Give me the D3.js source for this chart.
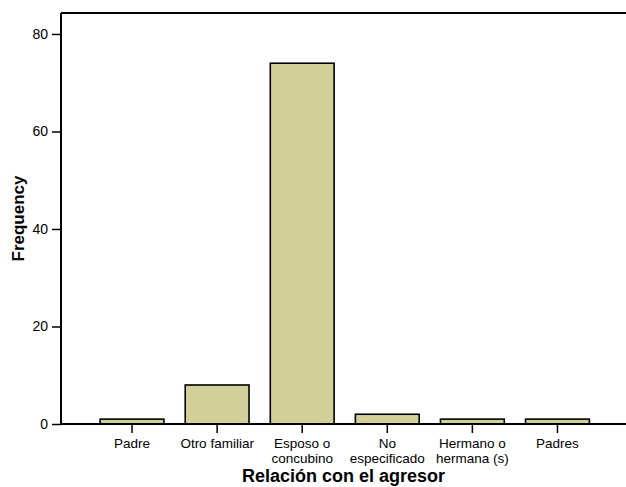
<!DOCTYPE html>
<html lang="es">
<head>
<meta charset="UTF-8">
<title>Relación con el agresor</title>
<script src="https://d3js.org/d3.v7.min.js"></script>
<style>
  body { margin: 0; background: #fff; }
  text { font-family: "Liberation Sans", Arial, sans-serif; }
</style>
</head>
<body>
<div id="chart"></div>
<script>
// data
var categories = [
  ["Padre"],
  ["Otro familiar"],
  ["Esposo o", "concubino"],
  ["No", "especificado"],
  ["Hermano o", "hermana (s)"],
  ["Padres"]
];
var frequencies = [1, 8, 74, 2, 1, 1];
var yTicks = [0, 20, 40, 60, 80];

var W = 626, H = 487;
// plot box (avoid the name "top", window.top is read-only)
var plotL = 61, plotT = 13, plotR = 626, plotB = 424;

var svg = d3.select("#chart").append("svg")
  .attr("width", W).attr("height", H);

var keys = categories.map(function(c) { return c.join(" "); });

var x = d3.scaleBand()
  .domain(keys)
  .range([89.5, 600])
  .paddingInner(0.25)
  .paddingOuter(0.125);

var y = d3.scaleLinear()
  .domain([0, 84.3])
  .range([plotB, plotT]);

// bars
svg.selectAll("rect.bar")
  .data(frequencies)
  .enter().append("rect")
  .attr("class", "bar")
  .attr("x", function(d, i) { return x(keys[i]); })
  .attr("width", x.bandwidth())
  .attr("y", function(d) { return y(d); })
  .attr("height", function(d) { return y(0) - y(d); })
  .attr("fill", "#d3cf99")
  .attr("stroke", "#000")
  .attr("stroke-width", 1.6);

// y axis
var yAxis = svg.append("g")
  .attr("transform", "translate(" + plotL + ",0)")
  .call(d3.axisLeft(y).tickValues(yTicks).tickSize(9).tickPadding(4));
yAxis.select(".domain").remove();
yAxis.selectAll("line").attr("stroke", "#000").attr("stroke-width", 1.5);
yAxis.selectAll("text").style("font-size", "14px").attr("fill", "#000");

// x axis
var xAxis = svg.append("g")
  .attr("transform", "translate(0," + plotB + ")")
  .call(d3.axisBottom(x).tickSize(9).tickFormat(""));
xAxis.select(".domain").remove();
xAxis.selectAll("line").attr("stroke", "#000").attr("stroke-width", 1.5);

xAxis.selectAll(".tick").each(function(d, i) {
  var t = d3.select(this).append("text")
    .attr("text-anchor", "middle")
    .attr("fill", "#000")
    .style("font-size", "13.5px");
  categories[i].forEach(function(line, j) {
    t.append("tspan").attr("x", 0).attr("y", 24 + j * 15).text(line);
  });
});

// frame lines: left, top, bottom
svg.append("line").attr("x1", plotL).attr("x2", plotL).attr("y1", plotT).attr("y2", plotB)
  .attr("stroke", "#000").attr("stroke-width", 2);
svg.append("line").attr("x1", plotL).attr("x2", plotR).attr("y1", plotT).attr("y2", plotT)
  .attr("stroke", "#000").attr("stroke-width", 2);
svg.append("line").attr("x1", plotL).attr("x2", plotR).attr("y1", plotB).attr("y2", plotB)
  .attr("stroke", "#000").attr("stroke-width", 2);

// titles
svg.append("text")
  .attr("x", (plotL + plotR) / 2).attr("y", 482)
  .attr("text-anchor", "middle")
  .style("font-size", "18px").style("font-weight", "bold")
  .text("Relación con el agresor");

svg.append("text")
  .attr("transform", "translate(24," + ((plotT + plotB) / 2) + ") rotate(-90)")
  .attr("text-anchor", "middle")
  .style("font-size", "17px").style("font-weight", "bold")
  .text("Frequency");
</script>
</body>
</html>
